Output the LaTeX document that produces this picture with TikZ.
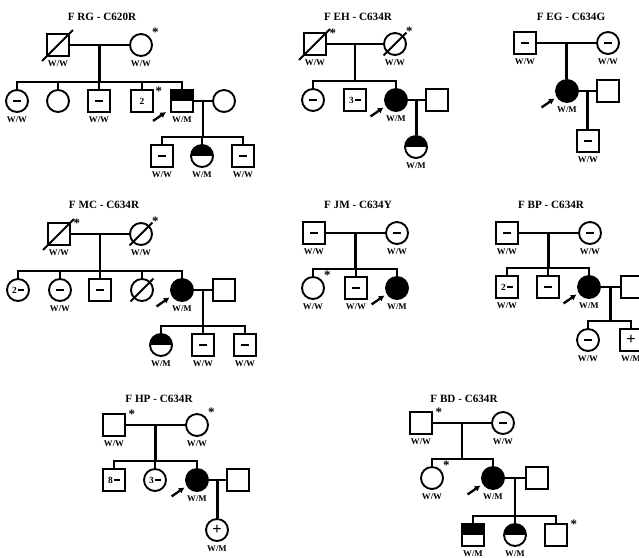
\documentclass[tikz,border=0pt]{standalone}
\usepackage{fontspec}
\setmainfont{Liberation Serif}
\usepackage{tikz}
\usetikzlibrary{arrows.meta, positioning, calc}

\newcommand{\gtfont}{\bfseries\fontsize{7.5}{7.5}\selectfont}
\newcommand{\ttlfont}{\bfseries\fontsize{9.5}{10}\selectfont}
\newcommand{\mn}{\rule{6.5pt}{2pt}}
\newcommand{\nmn}[1]{#1\,\rule[2pt]{4.5pt}{1.6pt}}

\tikzset{
  male/.style={draw, rectangle, line width=1.6pt, minimum size=0.66cm, inner sep=0pt, font=\bfseries\fontsize{8}{8}\selectfont},
  fem/.style={draw, circle, line width=1.6pt, minimum size=0.66cm, inner sep=0pt, font=\bfseries\fontsize{8}{8}\selectfont},
  aff/.style={fill=black},
  half/.style={path picture={\fill (path picture bounding box.west) rectangle (path picture bounding box.north east);}},
  gt/.style={font=\gtfont, inner sep=1pt},
  ttl/.style={font=\ttlfont, inner sep=0pt},
  ast/.style={font=\bfseries\fontsize{11}{11}\selectfont, inner sep=0pt},
  line/.style={line width=1.8pt},
  dead/.style={line width=1.6pt},
  prb/.style={line width=2pt, -{Latex[length=5pt,width=5.5pt]}},
  every label/.style={gt, label distance=2pt}
}

\begin{document}
\begin{tikzpicture}[x=0.03cm, y=-0.03cm]
  \useasboundingbox (0,0) rectangle (639,558);

  % F RG
  \node[ttl] (rg-t) at (102,17) {F RG - C620R};
  \node[male, label=below:W/W] (rg-fa) at (58,45) {};
  \node[fem, label=below:W/W] (rg-mo) at (141,45) {};
  \node[fem, label=below:W/W] (rg-c1) at (17,101) {\mn};
  \node[fem] (rg-c2) at (58,101) {};
  \node[male, label=below:W/W] (rg-c3) at (99,101) {\mn};
  \node[male] (rg-c4) at (142,101) {2};
  \node[male, half, label=below:W/M] (rg-p) at (182,101) {};
  \node[fem] (rg-sp) at (224,101) {};
  \node[male, label=below:W/W] (rg-g1) at (162,156) {\mn};
  \node[fem, half, label=below:W/M] (rg-g2) at (202,156) {};
  \node[male, label=below:W/W] (rg-g3) at (243,156) {\mn};
  \node[ast] (rg-a1) at ([shift={(6,-4)}]rg-mo.north east) {*};
  \node[ast] (rg-a2) at ([shift={(5,2)}]rg-c4.north east) {*};
  \draw[dead] ([shift={(-4,4)}]rg-fa.south west) -- ([shift={(3,-3)}]rg-fa.north east);
  \draw[line] (rg-fa) -- (rg-mo) coordinate[midway] (rg-m);
  \draw[line] (rg-c1.north) -- ++(0,-7) coordinate (rg-s) -| (rg-p.north);
  \draw[line] (rg-m) -- (rg-m |- rg-s);
  \foreach \c in {rg-c2,rg-c3,rg-c4} \draw[line] (\c.north) -- (\c.north |- rg-s);
  \draw[line] (rg-p) -- (rg-sp) coordinate[midway] (rg-n);
  \draw[line] (rg-g1.north) -- ++(0,-7) coordinate (rg-s2) -| (rg-g3.north);
  \draw[line] (rg-n) -- (rg-n |- rg-s2);
  \draw[line] (rg-g2.north) -- (rg-g2.north |- rg-s2);
  \draw[prb] ([shift={(-17,8)}]rg-p.south west) -- ([shift={(-4,-1)}]rg-p.south west);

  % F EH
  \node[ttl] (eh-t) at (358,17) {F EH - C634R};
  \node[male, label=below:W/W] (eh-fa) at (315,44) {};
  \node[fem, label=below:W/W] (eh-mo) at (395,44) {};
  \node[fem] (eh-c1) at (313,100) {\mn};
  \node[male] (eh-c2) at (355,100) {\nmn{3}};
  \node[fem, aff, label=below:W/M] (eh-p) at (396,100) {};
  \node[male] (eh-sp) at (437,100) {};
  \node[fem, half, label=below:W/M] (eh-g1) at (416,147) {};
  \node[ast] (eh-a1) at ([shift={(6,1)}]eh-fa.north east) {*};
  \node[ast] (eh-a2) at ([shift={(6,-4)}]eh-mo.north east) {*};
  \draw[dead] ([shift={(-4,4)}]eh-fa.south west) -- ([shift={(3,-3)}]eh-fa.north east);
  \draw[dead] ([shift={(-3,3)}]eh-mo.south west) -- ([shift={(3,-3)}]eh-mo.north east);
  \draw[line] (eh-fa) -- (eh-mo) coordinate[midway] (eh-m);
  \draw[line] (eh-c1.north) -- ++(0,-7) coordinate (eh-s) -| (eh-p.north);
  \draw[line] (eh-m) -- (eh-m |- eh-s);
  \draw[line] (eh-p) -- (eh-sp) coordinate[midway] (eh-n);
  \draw[line] (eh-n) -- (eh-n |- eh-g1.north);
  \draw[prb] ([shift={(-17,8)}]eh-p.south west) -- ([shift={(-4,-1)}]eh-p.south west);

  % F EG
  \node[ttl] (eg-t) at (571,17) {F EG - C634G};
  \node[male, label=below:W/W] (eg-fa) at (525,43) {\mn};
  \node[fem, label=below:W/W] (eg-mo) at (608,43) {\mn};
  \node[fem, aff, label=below:W/M] (eg-p) at (567,91) {};
  \node[male] (eg-sp) at (608,91) {};
  \node[male, label=below:W/W] (eg-g1) at (588,141) {\mn};
  \draw[line] (eg-fa) -- (eg-mo) coordinate[midway] (eg-m);
  \draw[line] (eg-m) -- (eg-m |- eg-p.north);
  \draw[line] (eg-p) -- (eg-sp) coordinate[midway] (eg-n);
  \draw[line] (eg-n) -- (eg-n |- eg-g1.north);
  \draw[prb] ([shift={(-17,8)}]eg-p.south west) -- ([shift={(-4,-1)}]eg-p.south west);

  % F MC
  \node[ttl] (mc-t) at (104,205) {F MC - C634R};
  \node[male, label=below:W/W] (mc-fa) at (59,234) {};
  \node[fem, label=below:W/W] (mc-mo) at (141,234) {};
  \node[fem] (mc-c1) at (18,290) {\nmn{2}};
  \node[fem, label=below:W/W] (mc-c2) at (60,290) {\mn};
  \node[male] (mc-c3) at (100,290) {\mn};
  \node[fem] (mc-c4) at (142,290) {};
  \node[fem, aff, label=below:W/M] (mc-p) at (182,290) {};
  \node[male] (mc-sp) at (224,290) {};
  \node[fem, half, label=below:W/M] (mc-g1) at (161,345) {};
  \node[male, label=below:W/W] (mc-g2) at (203,345) {\mn};
  \node[male, label=below:W/W] (mc-g3) at (245,345) {\mn};
  \node[ast] (mc-a1) at ([shift={(6,1)}]mc-fa.north east) {*};
  \node[ast] (mc-a2) at ([shift={(6,-4)}]mc-mo.north east) {*};
  \draw[dead] ([shift={(-4,4)}]mc-fa.south west) -- ([shift={(3,-3)}]mc-fa.north east);
  \draw[dead] ([shift={(-3,3)}]mc-mo.south west) -- ([shift={(3,-3)}]mc-mo.north east);
  \draw[dead] ([shift={(-3,3)}]mc-c4.south west) -- ([shift={(3,-3)}]mc-c4.north east);
  \draw[line] (mc-fa) -- (mc-mo) coordinate[midway] (mc-m);
  \draw[line] (mc-c1.north) -- ++(0,-7) coordinate (mc-s) -| (mc-p.north);
  \draw[line] (mc-m) -- (mc-m |- mc-s);
  \foreach \c in {mc-c2,mc-c3,mc-c4} \draw[line] (\c.north) -- (\c.north |- mc-s);
  \draw[line] (mc-p) -- (mc-sp) coordinate[midway] (mc-n);
  \draw[line] (mc-g1.north) -- ++(0,-7) coordinate (mc-s2) -| (mc-g3.north);
  \draw[line] (mc-n) -- (mc-n |- mc-s2);
  \draw[line] (mc-g2.north) -- (mc-g2.north |- mc-s2);
  \draw[prb] ([shift={(-17,8)}]mc-p.south west) -- ([shift={(-4,-1)}]mc-p.south west);

  % F JM
  \node[ttl] (jm-t) at (358,205) {F JM - C634Y};
  \node[male, label=below:W/W] (jm-fa) at (314,233) {\mn};
  \node[fem, label=below:W/W] (jm-mo) at (397,233) {\mn};
  \node[fem, label=below:W/W] (jm-c1) at (313,288) {};
  \node[male, label=below:W/W] (jm-c2) at (356,288) {\mn};
  \node[fem, aff, label=below:W/M] (jm-p) at (397,288) {};
  \node[ast] (jm-a1) at ([shift={(6,-4)}]jm-c1.north east) {*};
  \draw[line] (jm-fa) -- (jm-mo) coordinate[midway] (jm-m);
  \draw[line] (jm-c1.north) -- ++(0,-7) coordinate (jm-s) -| (jm-p.north);
  \draw[line] (jm-m) -- (jm-m |- jm-s);
  \draw[line] (jm-c2.north) -- (jm-c2.north |- jm-s);
  \draw[prb] ([shift={(-17,8)}]jm-p.south west) -- ([shift={(-4,-1)}]jm-p.south west);

  % F BP
  \node[ttl] (bp-t) at (551,205) {F BP - C634R};
  \node[male, label=below:W/W] (bp-fa) at (507,233) {\mn};
  \node[fem, label=below:W/W] (bp-mo) at (590,233) {\mn};
  \node[male, label=below:W/W] (bp-c1) at (507,287) {\nmn{2}};
  \node[male] (bp-c2) at (548,287) {\mn};
  \node[fem, aff, label=below:W/M] (bp-p) at (589,287) {};
  \node[male] (bp-sp) at (632,287) {};
  \node[fem, label=below:W/W] (bp-g1) at (588,340) {\mn};
  \node[male, label=below:W/M] (bp-g2) at (631,340) {\fontsize{14}{14}\selectfont +};
  \draw[line] (bp-fa) -- (bp-mo) coordinate[midway] (bp-m);
  \draw[line] (bp-c1.north) -- ++(0,-7) coordinate (bp-s) -| (bp-p.north);
  \draw[line] (bp-m) -- (bp-m |- bp-s);
  \draw[line] (bp-c2.north) -- (bp-c2.north |- bp-s);
  \draw[line] (bp-p) -- (bp-sp) coordinate[midway] (bp-n);
  \draw[line] (bp-g1.north) -- ++(0,-7) coordinate (bp-s2) -| (bp-g2.north);
  \draw[line] (bp-n) -- (bp-n |- bp-s2);
  \draw[prb] ([shift={(-17,8)}]bp-p.south west) -- ([shift={(-4,-1)}]bp-p.south west);

  % F HP
  \node[ttl] (hp-t) at (159,399) {F HP - C634R};
  \node[male, label=below:W/W] (hp-fa) at (114,425) {};
  \node[fem, label=below:W/W] (hp-mo) at (197,425) {};
  \node[male] (hp-c1) at (114,480) {\nmn{8}};
  \node[fem] (hp-c2) at (155,480) {\nmn{3}};
  \node[fem, aff, label=below:W/M] (hp-p) at (197,480) {};
  \node[male] (hp-sp) at (238,480) {};
  \node[fem, label=below:W/M] (hp-g1) at (217,530) {\fontsize{14}{14}\selectfont +};
  \node[ast] (hp-a1) at ([shift={(6,1)}]hp-fa.north east) {*};
  \node[ast] (hp-a2) at ([shift={(6,-4)}]hp-mo.north east) {*};
  \draw[line] (hp-fa) -- (hp-mo) coordinate[midway] (hp-m);
  \draw[line] (hp-c1.north) -- ++(0,-7) coordinate (hp-s) -| (hp-p.north);
  \draw[line] (hp-m) -- (hp-m |- hp-s);
  \draw[line] (hp-c2.north) -- (hp-c2.north |- hp-s);
  \draw[line] (hp-p) -- (hp-sp) coordinate[midway] (hp-n);
  \draw[line] (hp-n) -- (hp-n |- hp-g1.north);
  \draw[prb] ([shift={(-17,8)}]hp-p.south west) -- ([shift={(-4,-1)}]hp-p.south west);

  % F BD
  \node[ttl] (bd-t) at (464,399) {F BD - C634R};
  \node[male, label=below:W/W] (bd-fa) at (421,423) {};
  \node[fem, label=below:W/W] (bd-mo) at (503,423) {\mn};
  \node[fem, label=below:W/W] (bd-c1) at (432,478) {};
  \node[fem, aff, label=below:W/M] (bd-p) at (493,478) {};
  \node[male] (bd-sp) at (537,478) {};
  \node[male, half, label=below:W/M] (bd-g1) at (473,535) {};
  \node[fem, half, label=below:W/M] (bd-g2) at (515,535) {};
  \node[male] (bd-g3) at (556,535) {};
  \node[ast] (bd-a1) at ([shift={(6,1)}]bd-fa.north east) {*};
  \node[ast] (bd-a2) at ([shift={(6,-4)}]bd-c1.north east) {*};
  \node[ast] (bd-a3) at ([shift={(6,1)}]bd-g3.north east) {*};
  \draw[line] (bd-fa) -- (bd-mo) coordinate[midway] (bd-m);
  \draw[line] (bd-c1.north) -- ++(0,-7) coordinate (bd-s) -| (bd-p.north);
  \draw[line] (bd-m) -- (bd-m |- bd-s);
  \draw[line] (bd-p) -- (bd-sp) coordinate[midway] (bd-n);
  \draw[line] (bd-g1.north) -- ++(0,-7) coordinate (bd-s2) -| (bd-g3.north);
  \draw[line] (bd-n) -- (bd-n |- bd-s2);
  \draw[line] (bd-g2.north) -- (bd-g2.north |- bd-s2);
  \draw[prb] ([shift={(-17,8)}]bd-p.south west) -- ([shift={(-4,-1)}]bd-p.south west);
\end{tikzpicture}
\end{document}
